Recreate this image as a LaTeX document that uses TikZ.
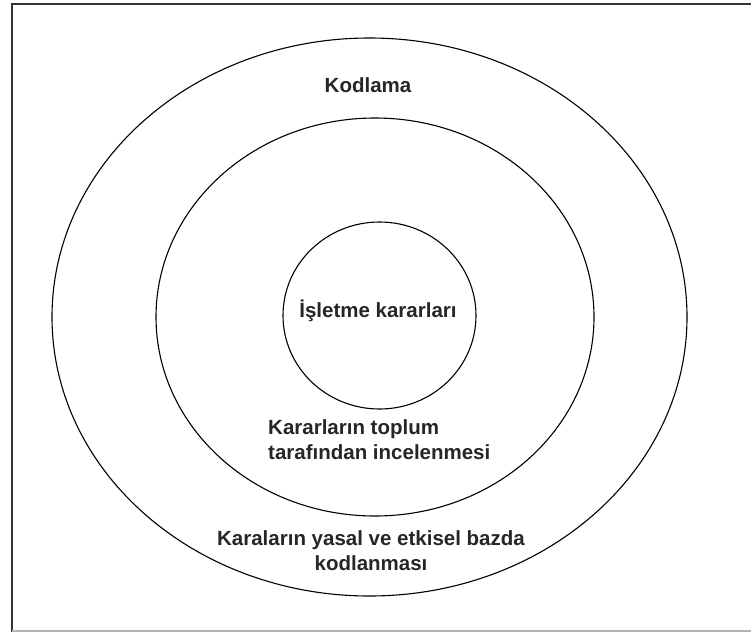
\documentclass[tikz,border=0pt]{standalone}
\usepackage{fontspec}
\setmainfont{Liberation Sans}
\usetikzlibrary{shapes.geometric}
\begin{document}
\begin{tikzpicture}[x=1pt,y=-1pt,
  ring/.style={draw=black,line width=1.1pt,ellipse,inner sep=0pt},
  lbl/.style={font=\bfseries\fontsize{20.5}{25}\selectfont,text=black!85,inner sep=0pt}]
\useasboundingbox (0,0) rectangle (751,632);
\fill[white] (0,0) rectangle (751,632);
\draw[line width=1.5pt,black!80] (12,632) -- (12,4) -- (751,4);
\draw[line width=1.5pt,black!30] (12,631) -- (751,631);
\node[ring,minimum width=635pt,minimum height=558pt] (outer) at (369.5,317) {};
\node[ring,minimum width=438pt,minimum height=398pt] (middle) at (375,317) {};
\node[ring,minimum width=193pt,minimum height=187pt] (inner) at (379.5,315.5) {};
\node[lbl] (t1) at (368,85) {Kodlama};
\node[lbl] (t2) at (378,311) {İşletme kararları};
\node[lbl,align=left,anchor=west] (t3) at (268,439.5) {Kararların toplum\\tarafından incelenmesi};
\node[lbl,align=center] (t4) at (371,551) {Karaların yasal ve etkisel bazda\\kodlanması};
\end{tikzpicture}
\end{document}
